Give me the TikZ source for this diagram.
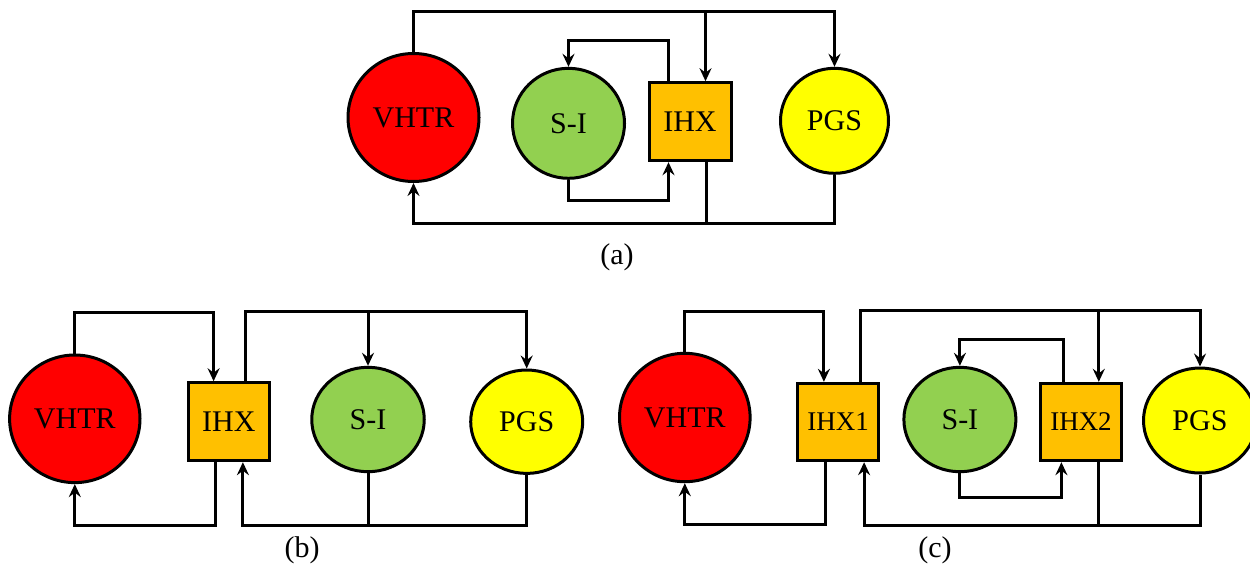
\documentclass[tikz,border=0pt]{standalone}
\usepackage{fontspec}
\setmainfont{Liberation Serif}
\usetikzlibrary{shapes.geometric,arrows.meta}
\definecolor{vred}{HTML}{FF0000}
\definecolor{sgreen}{HTML}{92D050}
\definecolor{iorange}{HTML}{FFC000}
\definecolor{pyellow}{HTML}{FFFF00}
\begin{document}
\begin{tikzpicture}[x=1pt,y=-1pt,
  line width=3pt,
  circ/.style={ellipse,draw,line width=3pt,inner sep=0pt,font=\fontsize{30}{32}\selectfont},
  hx/.style={rectangle,draw,line width=3pt,inner sep=0pt,fill=iorange,font=\fontsize{30}{32}\selectfont},
  hxs/.style={hx,font=\fontsize{27}{29}\selectfont},
  pipe/.style={line width=3pt},
  flow/.style={pipe,-{Stealth[length=13pt,width=12pt,inset=4.5pt]}},
  lbl/.style={font=\fontsize{30}{32}\selectfont}
]
\useasboundingbox (0,0) rectangle (1250,571);
% ---------------- (a)
\node[circ,fill=vred,minimum width=131pt,minimum height=128pt] (aV) at (413.5,117.5) {VHTR};
\node[circ,fill=sgreen,minimum width=112pt,minimum height=110pt] (aS) at (568.5,123.3) {S-I};
\node[hx,minimum width=82pt,minimum height=78pt] (aI) at (690,121.7) {IHX};
\node[circ,fill=pyellow,minimum width=108pt,minimum height=105pt] (aP) at (834.5,120.8) {PGS};
\draw[flow] (aV.north) -- ++(0,-40.6) -| (aP.north);
\draw[flow] ([xshift=15.5pt,yshift=70pt]aI.north) -- ([xshift=15.5pt]aI.north);
\draw[flow] ([xshift=-22pt]aI.north) -- ++(0,-40.4) -| (aS.north);
\draw[flow] (aS.south) -- ++(0,20.7) -| ([xshift=-21.5pt]aI.south);
\draw[flow] (aP.south) -- ++(0,48.4) -| (aV.south);
\draw[pipe] ([xshift=16pt]aI.south) -- ++(0,61);
\node[lbl] (la) at (617,257) {(a)};
% ---------------- (b)
\node[circ,fill=vred,minimum width=130.4pt,minimum height=127.6pt] (bV) at (74.8,418.8) {VHTR};
\node[hx,minimum width=81.4pt,minimum height=78pt] (bI) at (228.9,421.7) {IHX};
\node[circ,fill=sgreen,minimum width=112.5pt,minimum height=104.4pt] (bS) at (368,419.5) {S-I};
\node[circ,fill=pyellow,minimum width=112pt,minimum height=103.4pt] (bP) at (526.7,421.7) {PGS};
\draw[flow] (bV.north) -- ++(0,-41.5) -| ([xshift=-15.3pt]bI.north);
\draw[flow] ([xshift=-13.5pt]bI.south) -- ++(0,62.8) -| (bV.south);
\draw[flow] ([xshift=16.8pt]bI.north) -- ++(0,-69.7) -| (bP.north);
\draw[flow] ([yshift=54.3pt]bS.north) -- (bS.north);
\draw[flow] (bP.south) -- ++(0,50.2) -| ([xshift=14pt]bI.south);
\draw[pipe] (bS.south) -- ++(0,52);
\node[lbl] (lb) at (302,550) {(b)};
% ---------------- (c)
\node[circ,fill=vred,minimum width=130.6pt,minimum height=128.4pt] (cV) at (684.8,417.5) {VHTR};
\node[hxs,minimum width=80.8pt,minimum height=77.4pt] (cI) at (838.2,422) {IHX1};
\node[circ,fill=sgreen,minimum width=112pt,minimum height=104.4pt] (cS) at (959.9,419.5) {S-I};
\node[hxs,minimum width=81.3pt,minimum height=77.4pt] (cJ) at (1081,422) {IHX2};
\node[circ,fill=pyellow,minimum width=113pt,minimum height=105pt] (cP) at (1200,420.5) {PGS};
\draw[flow] (cV.north) -- ++(0,-40.6) -| ([xshift=-14.3pt]cI.north);
\draw[flow] ([xshift=-13.2pt]cI.south) -- ++(0,62.6) -| (cV.south);
\draw[flow] ([xshift=22.2pt]cI.north) -- ++(0,-71.6) -| (cP.north);
\draw[flow] ([xshift=17.8pt,yshift=71.6pt]cJ.north) -- ([xshift=17.8pt]cJ.north);
\draw[flow] ([xshift=-17.9pt]cJ.north) -- ++(0,-42.6) -| (cS.north);
\draw[flow] (cS.south) -- ++(0,24) -| ([xshift=-19.6pt]cJ.south);
\draw[flow] (cP.south) -- ++(0,51) -| ([xshift=25.9pt]cI.south);
\draw[pipe] ([xshift=17.8pt]cJ.south) -- ++(0,63.6);
\node[lbl] (lc) at (935,550) {(c)};
\end{tikzpicture}
\end{document}
